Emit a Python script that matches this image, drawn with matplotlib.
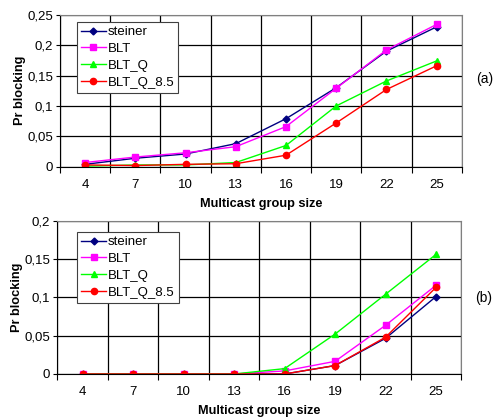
import numpy as np
import matplotlib.pyplot as plt
from matplotlib.ticker import MultipleLocator, FixedLocator

plt.rcParams['font.family'] = ['Liberation Sans', 'DejaVu Sans']

group_size = [4, 7, 10, 13, 16, 19, 22, 25]
series_names = ['steiner', 'BLT', 'BLT_Q', 'BLT_Q_8.5']

# (a)
steiner_a = [0.004, 0.014, 0.021, 0.038, 0.079, 0.130, 0.190, 0.230]
blt_a = [0.007, 0.016, 0.023, 0.033, 0.066, 0.129, 0.192, 0.234]
bltq_a = [0.001, 0.003, 0.003, 0.007, 0.035, 0.100, 0.141, 0.174]
bltq85_a = [0.003, 0.002, 0.004, 0.005, 0.019, 0.072, 0.127, 0.166]

# (b)
steiner_b = [0, 0, 0, 0, 0.000, 0.011, 0.0465, 0.101]
blt_b = [0, 0, 0, 0, 0.004, 0.0165, 0.0635, 0.1157]
bltq_b = [0, 0, 0, 0, 0.007, 0.052, 0.104, 0.156]
bltq85_b = [0, 0, 0, 0, 0.000, 0.011, 0.048, 0.113]

colors = ['#000080', '#FF00FF', '#00FF00', '#FF0000']
markers = ['D', 's', '^', 'o']
msizes = [3.5, 4.5, 5, 4.5]


def draw_panel(ax, data, ymax, ystep, tag, tag_y, leg_xy):
    x = np.arange(len(group_size))
    for vals, name, c, m, ms in zip(data, series_names, colors, markers, msizes):
        ax.plot(x, vals, color=c, marker=m, markersize=ms, lw=1, label=name)
    ax.set_xlim(-0.5, len(group_size) - 0.5)
    ax.set_ylim(0, ymax)
    ax.set_xticks(x)
    ax.set_xticklabels([str(g) for g in group_size])
    ax.xaxis.set_minor_locator(FixedLocator(np.arange(-0.5, len(group_size), 1.0)))
    ax.yaxis.set_major_locator(MultipleLocator(ystep))
    ax.yaxis.set_major_formatter(plt.FuncFormatter(
        lambda v, p: '0' if abs(v) < 1e-9 else ('%g' % round(v, 3)).replace('.', ',')))
    ax.tick_params(axis='x', which='major', length=0, pad=9, labelsize=9.5)
    ax.tick_params(axis='x', which='minor', length=4, width=0.8, direction='out')
    ax.tick_params(axis='y', length=3, width=0.8, direction='out', labelsize=9.5, pad=2)
    ax.grid(True, which='minor', axis='x', color='black', lw=0.9)
    ax.grid(True, which='major', axis='y', color='black', lw=0.9)
    for s in ['top', 'right']:
        ax.spines[s].set_color('#808080')
    ax.spines['left'].set_color('black')
    ax.spines['bottom'].set_color('black')
    ax.set_axisbelow(True)
    ax.set_xlabel('Multicast group size', fontsize=9.2, fontweight='bold', labelpad=5)
    ax.set_ylabel('Pr blocking', fontsize=9.2, fontweight='bold', labelpad=1)
    leg = ax.legend(loc='upper left', bbox_to_anchor=leg_xy, fontsize=9.5,
                    fancybox=False, framealpha=1, edgecolor='#404040',
                    handlelength=1.9, handletextpad=0.15, borderpad=0.3,
                    labelspacing=0.35, borderaxespad=0)
    leg.get_frame().set_linewidth(0.8)
    ax.text(1.035, tag_y, tag, transform=ax.transAxes,
            fontsize=10, va='center', ha='left')


fig = plt.figure(figsize=(4.96, 4.19), dpi=100)
ax1 = fig.add_axes([0.121, 0.602, 0.810, 0.363])
ax2 = fig.add_axes([0.1155, 0.1074, 0.8145, 0.366])

draw_panel(ax1, [steiner_a, blt_a, bltq_a, bltq85_a], 0.25, 0.05, '(a)', 0.58, (0.042, 0.952))
draw_panel(ax2, [steiner_b, blt_b, bltq_b, bltq85_b], 0.2, 0.05, '(b)', 0.496, (0.049, 0.926))

fig.savefig('out.png', dpi=100)
